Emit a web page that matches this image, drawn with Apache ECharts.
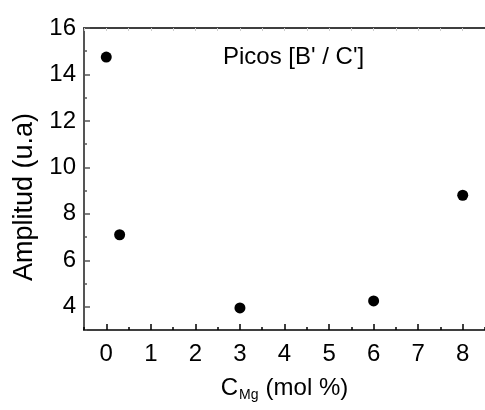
<!DOCTYPE html>
<html>
<head>
<meta charset="utf-8">
<script src="https://cdn.jsdelivr.net/npm/echarts@6/dist/echarts.min.js"></script>
<style>
    html, body { margin: 0; padding: 0; background: #fff; }
    #chart1 { width: 485px; height: 410px; }
</style>
</head>
<body>
<div id="chart1"></div>
<script>
// data
var concMg = [0, 0.3, 3, 6, 8];
var amplitud = [14.75, 7.1, 3.95, 4.25, 8.8];
var xTickLabels = [0, 1, 2, 3, 4, 5, 6, 7, 8];
var xMinorTicks = [-0.5, 0.5, 1.5, 2.5, 3.5, 4.5, 5.5, 6.5, 7.5, 8.5];
var yTickLabels = [4, 6, 8, 10, 12, 14, 16];
var yMinorTicks = [3, 5, 7, 9, 11, 13, 15];

var chart1 = echarts.init(document.getElementById('chart1'));
var font = 'Liberation Sans, Arial, sans-serif';

var points = [];
for (var i = 0; i < concMg.length; i++) {
    points.push([concMg[i], amplitud[i]]);
}

var option = {
    animation: false,
    title: {
        text: "Picos [B' / C']",
        left: 218,
        top: 40,
        textStyle: { fontFamily: font, fontSize: 24, fontWeight: 'normal', color: '#000' }
    },
    grid: { left: 84, top: 28, right: -7, bottom: 80 },
    xAxis: [{
        type: 'value', min: -0.5, max: 8.5, interval: 0.5,
        position: 'bottom',
        name: '{c|C}{s|Mg}{c|(mol %)}',
        nameLocation: 'middle', nameGap: 44,
        nameTextStyle: {
            rich: {
                c: { fontFamily: font, fontSize: 24, color: '#000' },
                s: { fontFamily: font, fontSize: 14, color: '#000', verticalAlign: 'bottom', padding: [14, 7, 0, 1] }
            }
        },
        axisLine: { onZero: false, lineStyle: { color: '#000', width: 1.5 } },
        axisTick: { inside: true, length: 6, customValues: xTickLabels, lineStyle: { color: '#000', width: 1.5 } },
        axisLabel: { customValues: xTickLabels, fontFamily: font, fontSize: 24, color: '#000', margin: 12 },
        splitLine: { show: false }
    }, {
        type: 'value', min: -0.5, max: 8.5, interval: 0.5,
        position: 'bottom',
        axisLine: { show: false, onZero: false },
        axisTick: { inside: true, length: 3, customValues: xMinorTicks, lineStyle: { color: '#000', width: 1.5 } },
        axisLabel: { show: false },
        splitLine: { show: false }
    }, {
        type: 'value', min: -0.5, max: 8.5, interval: 0.5,
        position: 'top',
        axisLine: { onZero: false, lineStyle: { color: '#000', width: 1.5 } },
        axisTick: { inside: true, length: 3, lineStyle: { color: '#ccc', width: 1 } },
        axisLabel: { show: false },
        splitLine: { show: false }
    }],
    yAxis: [{
        type: 'value', min: 3, max: 16, interval: 1,
        position: 'left',
        name: 'Amplitud (u.a)',
        nameLocation: 'middle', nameGap: 45,
        nameTextStyle: { fontFamily: font, fontSize: 27, color: '#000', padding: [0, 36, 0, 0] },
        axisLine: { onZero: false, lineStyle: { color: '#555', width: 2 } },
        axisTick: { inside: true, length: 6, customValues: yTickLabels, lineStyle: { color: '#555', width: 1.5 } },
        axisLabel: { customValues: yTickLabels, fontFamily: font, fontSize: 24, color: '#000', margin: 8 },
        splitLine: { show: false }
    }, {
        type: 'value', min: 3, max: 16, interval: 1,
        position: 'left',
        axisLine: { show: false, onZero: false },
        axisTick: { inside: true, length: 3, customValues: yMinorTicks, lineStyle: { color: '#555', width: 1.5 } },
        axisLabel: { show: false },
        splitLine: { show: false }
    }],
    series: [{
        type: 'scatter',
        xAxisIndex: 0,
        yAxisIndex: 0,
        data: points,
        symbol: 'circle',
        symbolSize: 11,
        itemStyle: { color: '#000', opacity: 1 }
    }]
};
chart1.setOption(option, true);
</script>
</body>
</html>
